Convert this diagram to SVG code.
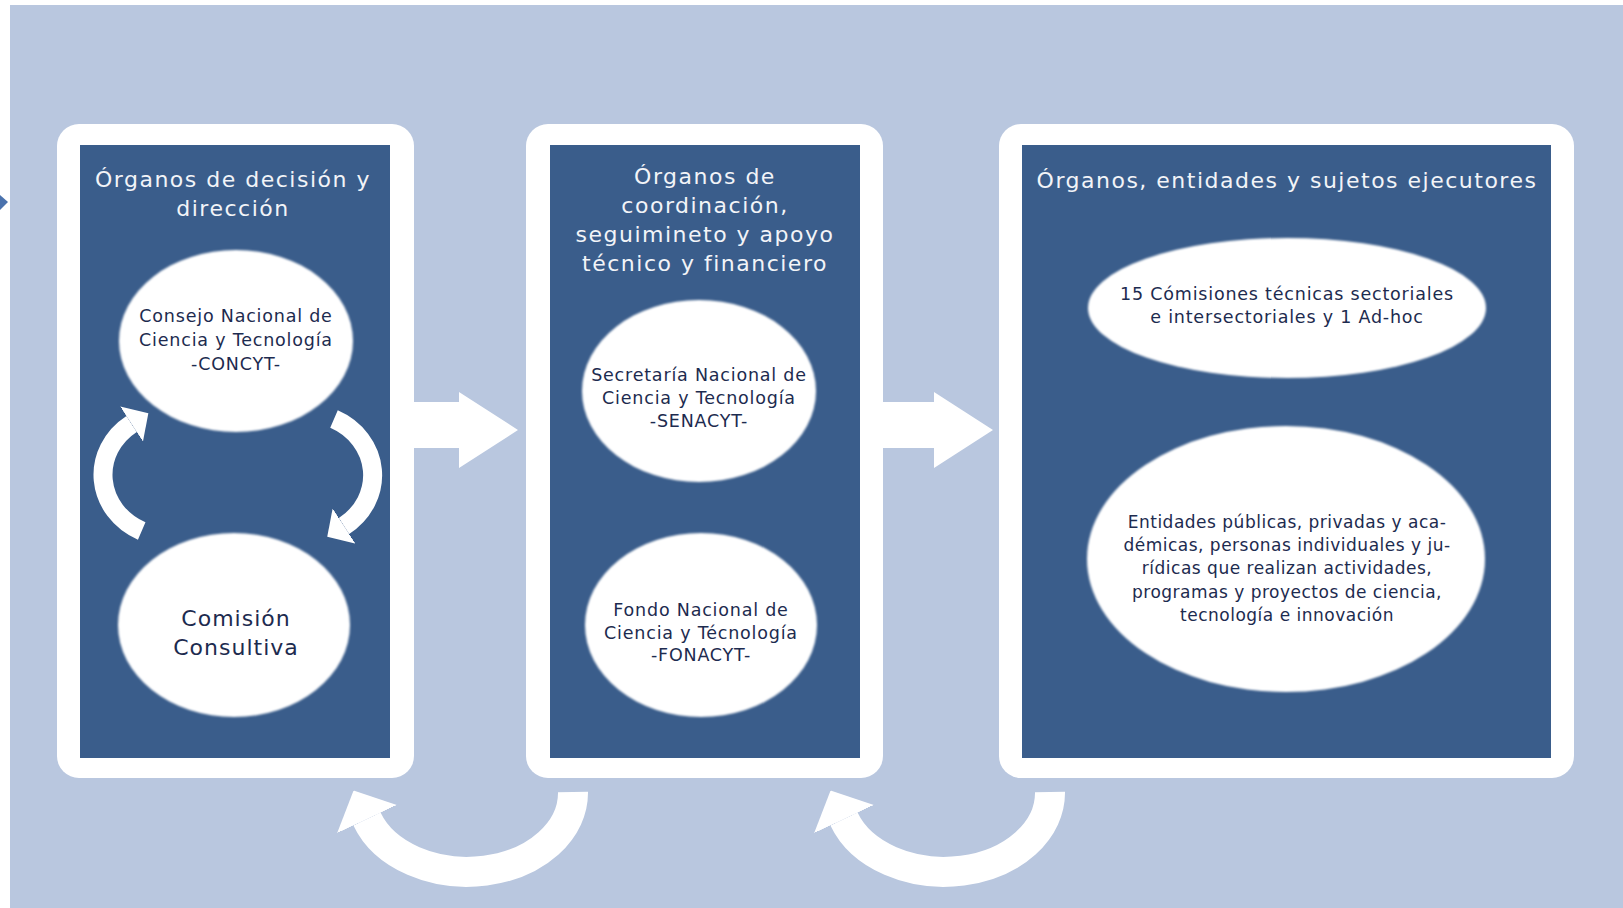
<svg xmlns="http://www.w3.org/2000/svg" width="1623" height="908" viewBox="0 0 1623 908">
<style>
.panel{fill:#ffffff}
.inner{fill:#3a5d8b}
.ell{fill:#ffffff}
.title{font-family:"DejaVu Sans",sans-serif;font-size:22px;fill:#f2f4f8;text-anchor:middle;letter-spacing:1.5px}
.t{font-family:"DejaVu Sans",sans-serif;font-size:17.5px;fill:#1d2b4f;text-anchor:middle;letter-spacing:0.8px}
.te{font-family:"DejaVu Sans",sans-serif;font-size:17px;fill:#1d2b4f;text-anchor:middle;letter-spacing:0.5px}
.tb{font-family:"DejaVu Sans",sans-serif;font-size:22px;fill:#1d2b4f;text-anchor:middle;letter-spacing:1px}
.arc{fill:none;stroke:#ffffff;stroke-linecap:butt}
.blk{fill:#ffffff}
</style>
<defs>
<marker id="head" markerUnits="strokeWidth" viewBox="0 -1.1 1.05 2.2" refX="0" refY="0" markerWidth="1.05" markerHeight="2.2" orient="auto">
<path d="M0,-1.1 L1.05,0 L0,1.1 Z" fill="#ffffff"/>
</marker>
<filter id="soft" x="-5%" y="-5%" width="110%" height="110%"><feGaussianBlur stdDeviation="1.2"/></filter>
</defs>
<rect x="0" y="0" width="1623" height="908" fill="#ffffff"/>
<rect x="10" y="5" width="1613" height="903" fill="#b9c7df"/>
<polygon points="0,195 8,202 0,210" fill="#4a72ad"/>

<g id="panel1">
<rect class="panel" x="57" y="124" width="357" height="654" rx="22"/>
<rect class="inner" x="80" y="145" width="310" height="613"/>
<text class="title" x="233" y="187">Órganos de decisión y</text>
<text class="title" x="233" y="216">dirección</text>
</g>
<g id="concyt">
<ellipse class="ell" cx="236" cy="341" rx="117" ry="91" filter="url(#soft)"/>
<text class="t" x="236" y="322">Consejo Nacional de</text>
<text class="t" x="236" y="346">Ciencia y Tecnología</text>
<text class="t" x="236" y="370">-CONCYT-</text>
</g>
<g id="comision">
<ellipse class="ell" cx="234" cy="625" rx="116" ry="92" filter="url(#soft)"/>
<text class="tb" x="236" y="626">Comisión</text>
<text class="tb" x="236" y="655">Consultiva</text>
</g>

<g id="panel2">
<rect class="panel" x="526" y="124" width="357" height="654" rx="22"/>
<rect class="inner" x="550" y="145" width="310" height="613"/>
<text class="title" x="705" y="184">Órganos de</text>
<text class="title" x="705" y="213">coordinación,</text>
<text class="title" x="705" y="242">seguimineto y apoyo</text>
<text class="title" x="705" y="271">técnico y financiero</text>
</g>
<g id="senacyt">
<ellipse class="ell" cx="699" cy="391" rx="117" ry="91" filter="url(#soft)"/>
<text class="t" x="699" y="381">Secretaría Nacional de</text>
<text class="t" x="699" y="404">Ciencia y Tecnología</text>
<text class="t" x="699" y="427">-SENACYT-</text>
</g>
<g id="fonacyt">
<ellipse class="ell" cx="701" cy="625" rx="116" ry="92" filter="url(#soft)"/>
<text class="t" x="701" y="616">Fondo Nacional de</text>
<text class="t" x="701" y="639">Ciencia y Técnología</text>
<text class="t" x="701" y="661">-FONACYT-</text>
</g>

<g id="panel3">
<rect class="panel" x="999" y="124" width="575" height="654" rx="22"/>
<rect class="inner" x="1022" y="145" width="529" height="613"/>
<text class="title" x="1287" y="188">Órganos, entidades y sujetos ejecutores</text>
</g>
<g id="comisiones">
<ellipse class="ell" cx="1287" cy="308" rx="199" ry="70" filter="url(#soft)"/>
<text class="t" x="1287" y="300">15 Cómisiones técnicas sectoriales</text>
<text class="t" x="1287" y="323">e intersectoriales y  1 Ad-hoc</text>
</g>
<g id="entidades">
<ellipse class="ell" cx="1286" cy="559" rx="199" ry="133" filter="url(#soft)"/>
<text class="te" x="1287" y="528">Entidades públicas, privadas y aca-</text>
<text class="te" x="1287" y="551">démicas, personas individuales y ju-</text>
<text class="te" x="1287" y="574">rídicas que realizan actividades,</text>
<text class="te" x="1287" y="598">programas y proyectos de ciencia,</text>
<text class="te" x="1287" y="621">tecnología e innovación</text>
</g>

<g id="connectors">
<polygon class="blk" points="412,402 459,402 459,392 518,430 459,468 459,448 412,448"/>
<polygon class="blk" points="881,402 934,402 934,392 993,430 934,468 934,448 881,448"/>
<path class="arc" stroke-width="19" d="M141.7,531 A67,62 0 0 1 131.6,424" marker-end="url(#head)"/>
<path class="arc" stroke-width="19" d="M334,419 A67,62 0 0 1 344,526" marker-end="url(#head)"/>
<path class="arc" stroke-width="30" d="M573,792 A106,79 0 0 1 367,819" marker-end="url(#head)"/>
<path class="arc" stroke-width="30" d="M1050,792 A106,79 0 0 1 844,819" marker-end="url(#head)"/>
</g>
</svg>
